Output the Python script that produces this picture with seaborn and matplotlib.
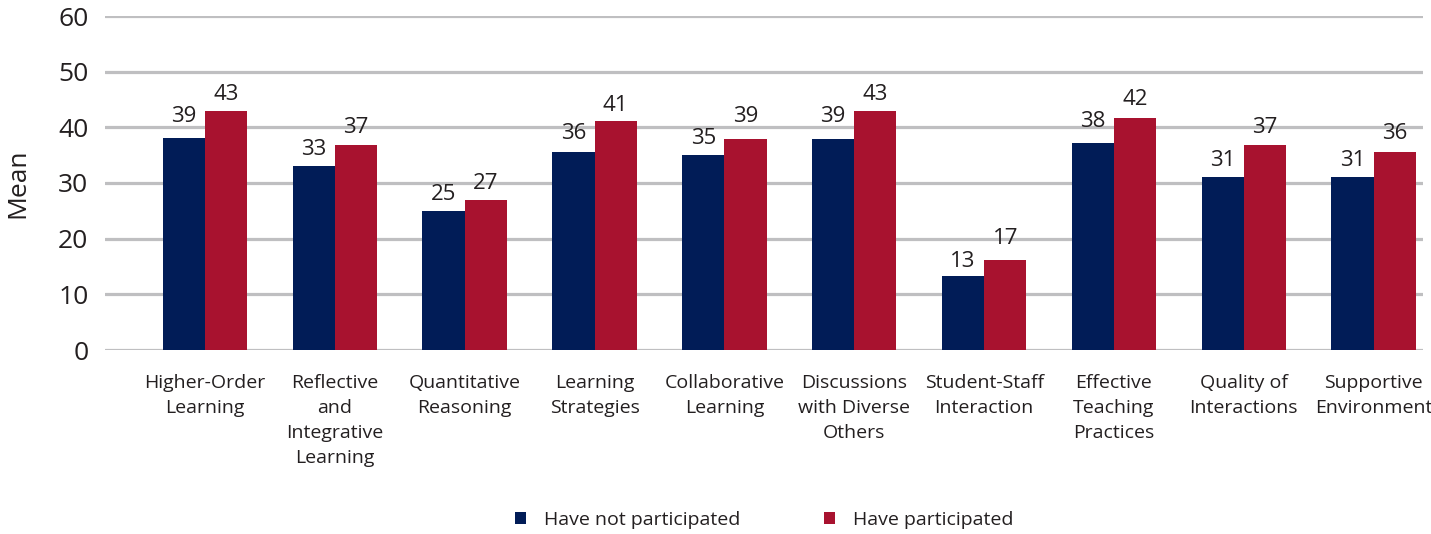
import matplotlib
matplotlib.use("Agg")
import matplotlib.pyplot as plt
import seaborn as sns
import pandas as pd
from matplotlib.patches import Patch

categories = [
    "Higher-Order\nLearning",
    "Reflective\nand\nIntegrative\nLearning",
    "Quantitative\nReasoning",
    "Learning\nStrategies",
    "Collaborative\nLearning",
    "Discussions\nwith Diverse\nOthers",
    "Student-Staff\nInteraction",
    "Effective\nTeaching\nPractices",
    "Quality of\nInteractions",
    "Supportive\nEnvironment",
]
series_names = ["Have not participated", "Have participated"]
not_participated = [38.1, 33.0, 25.0, 35.6, 35.0, 37.9, 13.3, 37.2, 31.1, 31.1]
participated = [42.9, 36.8, 26.9, 41.1, 37.9, 42.9, 16.2, 41.7, 36.8, 35.6]
labels_not = [39, 33, 25, 36, 35, 39, 13, 38, 31, 31]
labels_part = [43, 37, 27, 41, 39, 43, 17, 42, 37, 36]
y_ticks = [0, 10, 20, 30, 40, 50, 60]

NAVY = "#011C57"
RED = "#A8122F"
TEXT = "#231F20"
GRID = "#BFBFC1"

sns.set_theme(style="white")
plt.rcParams["font.family"] = ["Open Sans", "DejaVu Sans"]

df = pd.DataFrame({
    "category": categories * 2,
    "group": [series_names[0]] * len(categories) + [series_names[1]] * len(categories),
    "value": not_participated + participated,
    "label": labels_not + labels_part,
})

fig = plt.figure(figsize=(14.31, 5.34), dpi=100)
ax = fig.add_axes([105 / 1431, 1 - 350 / 534, (1423 - 105) / 1431, (350 - 16) / 534])

sns.barplot(data=df, x="category", y="value", hue="group", palette=[NAVY, RED],
            width=0.65, gap=0, saturation=1, ax=ax, legend=False, zorder=3,
            linewidth=0)

ax.set_ylim(0, 60)
ax.set_xlim(-0.77, 9.38)
ax.set_yticks(y_ticks)
ax.yaxis.grid(True, color=GRID, linewidth=2.3, zorder=0)
ax.set_axisbelow(True)
for s in ax.spines.values():
    s.set_visible(False)

ax.tick_params(axis="y", length=0, pad=12, labelsize=19, labelcolor=TEXT)
ax.tick_params(axis="x", length=0, pad=17, labelsize=14, labelcolor=TEXT)
ax.set_xlabel("")
ax.set_ylabel("Mean", fontsize=19, color=TEXT, labelpad=20)
for t in ax.get_xticklabels():
    t.set_multialignment("center")
    t.set_linespacing(1.5)

# value labels
for container, labs in zip(ax.containers, [labels_not, labels_part]):
    for bar, lab in zip(container, labs):
        cx = bar.get_x() + bar.get_width() / 2
        ax.annotate(str(lab), xy=(cx, lab), xytext=(0, 6), textcoords="offset pixels",
                    ha="center", va="bottom", fontsize=16, color=TEXT)

handles = [Patch(facecolor=NAVY, edgecolor="none"), Patch(facecolor=RED, edgecolor="none")]
ax.legend(handles, series_names, loc="center", bbox_to_anchor=(0.5, -0.509),
          ncol=2, frameon=False, fontsize=14, handlelength=0.6, handleheight=0.6,
          handletextpad=0.9, columnspacing=4.3, labelcolor=TEXT)

fig.savefig("out.png", dpi=100)
